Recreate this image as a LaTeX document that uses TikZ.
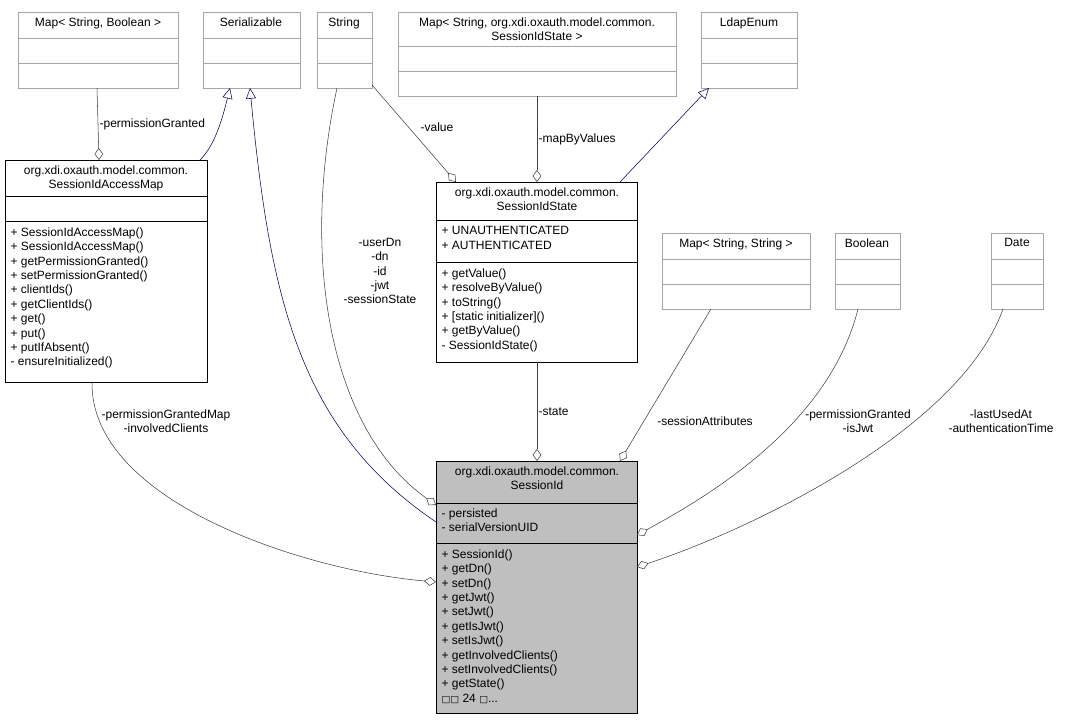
\documentclass[tikz,border=0pt]{standalone}
\usepackage{fontspec}
\setmainfont{Liberation Sans}
\newfontfamily\symfont{DejaVu Sans}
\usetikzlibrary{positioning,calc,arrows.meta}
\tikzset{
    class diagram/.style={
            x=0.75pt,y=-0.75pt,
            font=\fontsize{9}{10.8}\selectfont,
            box/.style={draw,rectangle,inner sep=0pt,anchor=north west},
            extbox/.style={box,draw=black!35},
            title/.style={anchor=north,align=center,inner sep=1pt},
            members/.style={anchor=north west,align=left,inner sep=1pt},
            tag/.style={align=center,inner sep=1pt,text=black},
            aggr/.style={-{Diamond[open,length=9pt,width=6.5pt]},black!75},
            inherit/.style={{Triangle[open,length=8pt,width=7.5pt]}-,blue!35!black}
        }
    }
\newcommand{\classbox}[6]{%
  \node[#6,minimum width=0.75*#4pt,minimum height=0.75*#5pt] (#1) at (#2,#3) {};}
\begin{document}
\begin{tikzpicture}[class diagram]
        \useasboundingbox (0,0) rectangle (1065,720);

        % external classes
        \classbox{mapsb}{18}{12}{160}{76}{extbox}
        \classbox{ser}{203}{12}{97}{76}{extbox}
        \classbox{str}{317}{12}{55}{76}{extbox}
        \classbox{mapst}{398}{12}{278}{84}{extbox}
        \classbox{ldap}{701}{12}{96}{76}{extbox}
        \classbox{mapss}{662}{233}{148}{76}{extbox}
        \classbox{bool}{835}{233}{65}{76}{extbox}
        \classbox{date}{991}{233}{52}{76}{extbox}
        \node[title] at (98,16) {Map< String, Boolean >};
        \node[title] at (251,16) {Serializable};
        \node[title] at (344,16) {String};
        \node[title] at (537,16) {Map< String, org.xdi.oxauth.model.common.\\SessionIdState >};
        \node[title] at (749,16) {LdapEnum};
        \node[title] at (736,237) {Map< String, String >};
        \node[title] at (867,237) {Boolean};
        \node[title] at (1017,237) {Date};
        \foreach \xa/\xb/\ya/\yb in {18/178/38/63, 203/300/38/63, 317/372/38/63,
            398/676/46/71, 701/797/38/63, 662/810/259/284, 835/900/259/284, 991/1043/259/284}
            {\draw[black!35] (\xa,\ya) -- (\xb,\ya) (\xa,\yb) -- (\xb,\yb);}

        % SessionIdAccessMap
        \classbox{accmap}{5}{160}{202}{222}{box}
        \node[title] at (106,164) {org.xdi.oxauth.model.common.\\SessionIdAccessMap};
        \draw (5,196) -- (207,196) (5,221) -- (207,221);
        \node[members] at (9,226) {+ SessionIdAccessMap()\\+ SessionIdAccessMap()\\+ getPermissionGranted()\\+ setPermissionGranted()\\+ clientIds()\\+ getClientIds()\\+ get()\\+ put()\\+ putIfAbsent()\\- ensureInitialized()};

        % SessionIdState
        \classbox{state}{436}{182}{201}{180}{box}
        \node[title] at (537,186) {org.xdi.oxauth.model.common.\\SessionIdState};
        \draw (436,220) -- (637,220) (436,262) -- (637,262);
        \node[members] at (440,225) {+ UNAUTHENTICATED\\+ AUTHENTICATED};
        \node[members] at (440,267) {+ getValue()\\+ resolveByValue()\\+ toString()\\+ [static initializer]()\\+ getByValue()\\- SessionIdState()};

        % SessionId
        \classbox{sid}{436}{461}{201}{252}{box,fill=black!25}
        \node[title] at (537,465) {org.xdi.oxauth.model.common.\\SessionId};
        \draw (436,503) -- (637,503) (436,543) -- (637,543);
        \node[members] at (440,507) {- persisted\\- serialVersionUID};
        \node[members] at (440,548) {+ SessionId()\\+ getDn()\\+ setDn()\\+ getJwt()\\+ setJwt()\\+ getIsJwt()\\+ setIsJwt()\\+ getInvolvedClients()\\+ setInvolvedClients()\\+ getState()\\{\symfont\fontsize{7}{10.8}\selectfont □□} 24 {\symfont\fontsize{7}{10.8}\selectfont □}...};

        % connectors
        \draw[aggr] (97,88) -- (99,160) node[midway,tag,right] {-permissionGranted};
        \draw[inherit] (230,88) .. controls (222,120) and (215,145) .. (200,160);
        \draw[inherit] (250,88) .. controls (270,300) and (300,430) .. (436,522);
        \draw[aggr] (337,88) .. controls (300,260) and (330,430) .. (436,505);
        \node[tag] at (380,271) {-userDn\\-dn\\-id\\-jwt\\-sessionState};
        \draw[aggr] (372,85) -- (456,182);
        \node[tag] at (437,127) {-value};
        \draw[aggr] (537,96) -- (537,182) node[midway,tag,right] {-mapByValues};
        \draw[inherit] (709,88) -- (620,182);
        \draw[aggr] (537,362) -- (537,461) node[midway,tag,right] {-state};
        \draw[aggr] (711,309) -- (620,461);
        \node[tag] at (705,421) {-sessionAttributes};
        \draw[aggr] (858,309) .. controls (830,420) and (720,490) .. (637,535);
        \node[tag] at (858,421) {-permissionGranted\\-isJwt};
        \draw[aggr] (1003,309) .. controls (960,430) and (750,530) .. (637,567);
        \node[tag] at (1001,421) {-lastUsedAt\\-authenticationTime};
        \draw[aggr] (92,382) .. controls (90,500) and (300,570) .. (436,582);
        \node[tag] at (166,421) {-permissionGrantedMap\\-involvedClients};
    \end{tikzpicture}
\end{document}
